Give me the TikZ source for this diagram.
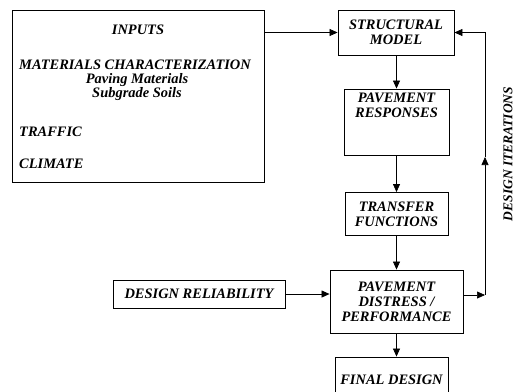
\documentclass[tikz,border=0pt]{standalone}
\usepackage{fontspec}
\setmainfont{Liberation Serif}
\usetikzlibrary{arrows.meta,positioning}

\tikzset{
  blk/.style={draw, line width=0.9bp, inner sep=0pt, align=center},
  lbl/.style={font=\bfseries\itshape\fontsize{14.5}{15}\selectfont, inner sep=0pt, align=center},
  arr/.style={line width=0.7bp, -{Triangle[length=8bp,width=7bp]}},
}

\begin{document}
\begin{tikzpicture}[x=1bp, y=-1bp]

    \useasboundingbox (0,0) rectangle (517,391);

    % input block
    \node[blk, minimum width=252bp, minimum height=172bp] (inputs) at (138,96) {};
    \node[lbl] (intitle) at (138,30) {INPUTS};
    \node[lbl] (inmat) at (135,65) {MATERIALS CHARACTERIZATION};
    \node[lbl] (inpav) at (137,80) {Paving Materials};
    \node[lbl] (insub) at (137,94) {Subgrade Soils};
    \node[lbl, anchor=west] (intraf) at (19,132) {TRAFFIC};
    \node[lbl, anchor=west] (inclim) at (19,164) {CLIMATE};

    % analysis chain
    \node[blk, lbl, minimum width=116bp, minimum height=45bp] (struct) at (396,32.5) {STRUCTURAL\\MODEL};
    \node[blk, minimum width=105bp, minimum height=66bp] (resp) at (396.5,122) {};
    \node[lbl, below=4bp of resp.north] (resptxt) {PAVEMENT\\RESPONSES};
    \node[blk, lbl, minimum width=103bp, minimum height=43bp] (transfer) at (396.5,214) {TRANSFER\\FUNCTIONS};
    \node[blk, lbl, minimum width=133bp, minimum height=63bp] (distress) at (396.5,301.5) {PAVEMENT\\DISTRESS /\\PERFORMANCE};
    \node[blk, lbl, minimum width=113bp, minimum height=46bp] (final) at (391.5,380) {FINAL DESIGN};
    \node[blk, lbl, minimum width=172bp, minimum height=28bp] (rel) at (199,294) {DESIGN RELIABILITY};

    \draw[arr] (inputs.east |- struct.west) -- (struct.west);
    \draw[arr] (struct.south -| resp.north) -- (resp.north);
    \draw[arr] (resp.south) -- (transfer.north);
    \draw[arr] (transfer.south) -- (distress.north);
    \draw[arr] (distress.south) -- (distress.south |- final.north);
    \draw[arr] (rel.east) -- (rel.east -| distress.west);

    % iteration loop
    \coordinate (itb) at (485,295);
    \coordinate (itm) at (485,157);
    \draw[arr] (distress.east |- itb) -- (itb);
    \draw[arr] (itb) -- (itm);
    \draw[arr] (itm) |- (struct.east);
    \node[lbl, font=\bfseries\itshape\fontsize{13.5}{14}\selectfont, rotate=90] (iter) at (508,154) {DESIGN ITERATIONS};

\end{tikzpicture}
\end{document}
